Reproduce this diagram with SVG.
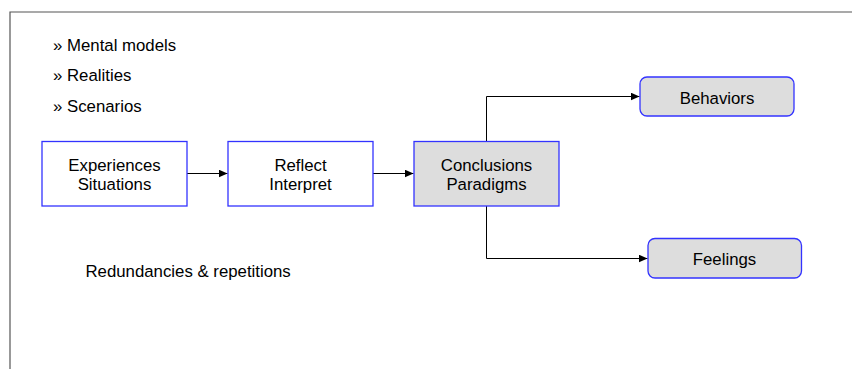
<svg xmlns="http://www.w3.org/2000/svg" width="853" height="369" viewBox="0 0 853 369">
<defs>
<style>
text{font-family:"Liberation Sans",Arial,sans-serif;font-size:16.8px;fill:#000}
.box{fill:#fff;stroke:#3333ff;stroke-width:1.3}
.gbox{fill:#dddddd;stroke:#3333ff;stroke-width:1.3}
.con{fill:none;stroke:#000;stroke-width:1}
.mid{text-anchor:middle}
</style>
<marker id="ah" markerWidth="9" markerHeight="8" refX="9" refY="4" orient="auto" markerUnits="userSpaceOnUse">
<path d="M0,0 L9,4 L0,8 Z" fill="#000"/>
</marker>
</defs>
<rect width="853" height="369" fill="#fff"/>
<path d="M10,369 V12 H852" fill="none" stroke="#555" stroke-width="1.2"/>
<g id="bullets">
<text x="53" y="51">» Mental models</text>
<text x="53" y="81">» Realities</text>
<text x="53" y="111.5">» Scenarios</text>
</g>
<g id="note"><text x="85.5" y="276.5">Redundancies &amp; repetitions</text></g>
<g id="connectors">
<path class="con" d="M187,173.5 H227.5" marker-end="url(#ah)"/>
<path class="con" d="M373,173.5 H413.5" marker-end="url(#ah)"/>
<path class="con" d="M486.5,141 V96.5 H639.5" marker-end="url(#ah)"/>
<path class="con" d="M486.5,206 V258.5 H647.5" marker-end="url(#ah)"/>
</g>
<g id="experiences">
<rect class="box" x="42" y="141.5" width="145" height="64.5"/>
<text class="mid" x="114.5" y="170.5">Experiences</text>
<text class="mid" x="114.5" y="190">Situations</text>
</g>
<g id="reflect">
<rect class="box" x="228" y="141.5" width="145" height="64.5"/>
<text class="mid" x="300.5" y="170.5">Reflect</text>
<text class="mid" x="300.5" y="190">Interpret</text>
</g>
<g id="conclusions">
<rect class="gbox" x="414" y="141.5" width="145" height="64.5"/>
<text class="mid" x="486.5" y="170.5">Conclusions</text>
<text class="mid" x="486.5" y="190">Paradigms</text>
</g>
<g id="behaviors">
<rect class="gbox" x="640" y="77" width="154" height="39" rx="7" ry="7"/>
<text class="mid" x="717" y="103.5">Behaviors</text>
</g>
<g id="feelings">
<rect class="gbox" x="648" y="238.5" width="153.5" height="39.5" rx="7" ry="7"/>
<text class="mid" x="724.5" y="265">Feelings</text>
</g>
</svg>
